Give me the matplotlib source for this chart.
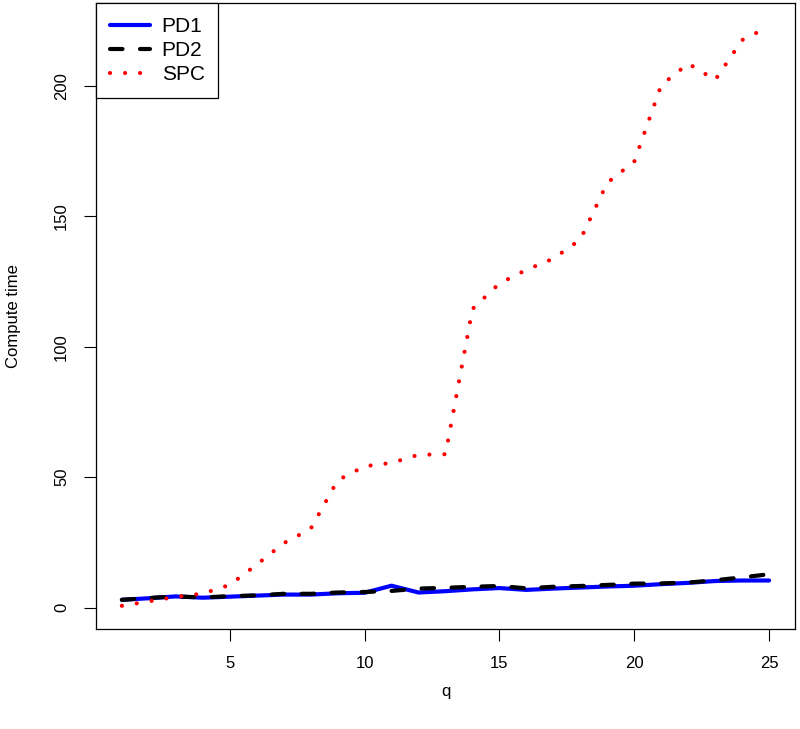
import matplotlib
matplotlib.use("Agg")
import matplotlib.pyplot as plt

plt.rcParams['font.family'] = ['Liberation Sans', 'DejaVu Sans']

# problem size q and compute times
q = list(range(1, 26))
pd1 = [3.0, 3.6, 4.3, 3.8, 4.2, 4.6, 5.0, 5.0, 5.5, 5.7, 8.4, 5.8, 6.3,
       7.0, 7.5, 6.8, 7.3, 7.7, 8.1, 8.4, 9.0, 9.5, 10.2, 10.4, 10.4]
pd2 = [3.0, 3.7, 4.3, 3.9, 4.4, 4.7, 5.3, 5.3, 5.8, 6.0, 6.4, 7.3, 7.6,
       8.0, 8.3, 7.4, 8.0, 8.3, 8.7, 9.2, 9.3, 9.6, 10.5, 11.6, 12.8]
spc = [0.7, 2.4, 4.1, 5.4, 8.7, 16.5, 24.7, 30.2, 48.8, 54.2, 55.5, 58.6, 58.8,
       114.5, 124.3, 129.5, 133.8, 141.1, 162.9, 171.0, 200.3, 208.6, 202.3, 217.6, 222.8]

xticks = [5, 10, 15, 20, 25]
yticks = [0, 50, 100, 150, 200]

fig = plt.figure(figsize=(8, 7.29), dpi=100)
ax = fig.add_axes([0.12, 0.1368, 0.87375, 0.8587])

ax.plot(q, pd1, color="#0000FF", lw=3, solid_capstyle="round", label="PD1")
ax.plot(q, pd2, color="black", lw=3, linestyle=(0, (3.0, 4.2)),
        dash_capstyle="round", label="PD2")
ax.plot(q, spc, color="#FF0000", lw=3, linestyle=(0, (0.01, 3.6)),
        dash_capstyle="round", label="SPC")

ax.set_xlim(0.04, 25.96)
ax.set_ylim(-8.3, 231.7)
ax.set_xticks(xticks)
ax.set_yticks(yticks)
ax.tick_params(direction="out", length=8.5, width=0.8, labelsize=12, pad=11)
ax.set_yticklabels([str(v) for v in yticks], rotation=90, va="center")
for s in ax.spines.values():
    s.set_linewidth(0.9)

ax.set_xlabel("q", fontsize=12, labelpad=9)
ax.set_ylabel("Compute time", fontsize=12, labelpad=24)

leg = ax.legend(loc="upper left", borderaxespad=0, fancybox=False,
                edgecolor="black", framealpha=1, fontsize=15,
                handlelength=1.95, handletextpad=0.55, labelspacing=0.25,
                borderpad=0.65)
leg.get_frame().set_linewidth(0.9)

fig.savefig("out.png", dpi=100)
